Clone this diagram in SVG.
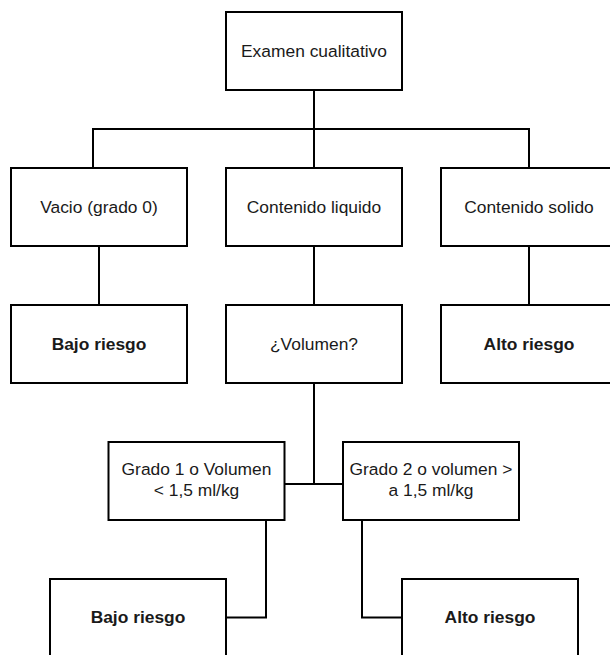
<svg xmlns="http://www.w3.org/2000/svg" width="610" height="655" viewBox="0 0 610 655">
<style>
.box{fill:#fff;stroke:#000;stroke-width:2}
.t{font-family:"Liberation Sans",Arial,sans-serif;font-size:17.4px;fill:#1a1a1a;text-anchor:middle}
.b{font-weight:bold}
.c{fill:none;stroke:#000;stroke-width:2}
</style>
<rect width="610" height="655" fill="#fff"/>
<g id="connectors">
<path class="c" d="M314 90V129M93 168V129H529V168M314 129V168"/>
<path class="c" d="M99 247V305M314 247V305M529 247V305"/>
<path class="c" d="M314 383V484M284.5 484H343"/>
<path class="c" d="M266 520V617.5H226M362 520V617.5H402"/>
</g>
<g id="n-examen"><rect class="box" x="226" y="12" width="176" height="78"/><text class="t" x="314" y="57">Examen cualitativo</text></g>
<g id="n-vacio"><rect class="box" x="11" y="168" width="176" height="78"/><text class="t" x="99" y="213">Vacio (grado 0)</text></g>
<g id="n-liquido"><rect class="box" x="226" y="168" width="176" height="78"/><text class="t" x="314" y="213">Contenido liquido</text></g>
<g id="n-solido"><rect class="box" x="441" y="168" width="176" height="78"/><text class="t" x="529" y="213">Contenido solido</text></g>
<g id="n-bajo1"><rect class="box" x="11" y="305" width="176" height="78"/><text class="t b" x="99" y="350">Bajo riesgo</text></g>
<g id="n-volumen"><rect class="box" x="226" y="305" width="176" height="78"/><text class="t" x="314" y="350">¿Volumen?</text></g>
<g id="n-alto1"><rect class="box" x="441" y="305" width="176" height="78"/><text class="t b" x="529" y="350">Alto riesgo</text></g>
<g id="n-grado1"><rect class="box" x="108.5" y="442" width="176" height="78"/><text class="t" x="196.5" y="475">Grado 1 o Volumen</text><text class="t" x="196.5" y="496">&lt; 1,5 ml/kg</text></g>
<g id="n-grado2"><rect class="box" x="343" y="442" width="176" height="78"/><text class="t" x="431" y="475">Grado 2 o volumen &gt;</text><text class="t" x="431" y="496">a 1,5 ml/kg</text></g>
<g id="n-bajo2"><rect class="box" x="50" y="579" width="176" height="78"/><text class="t b" x="138" y="623">Bajo riesgo</text></g>
<g id="n-alto2"><rect class="box" x="402" y="579" width="176" height="78"/><text class="t b" x="490" y="623">Alto riesgo</text></g>
</svg>
